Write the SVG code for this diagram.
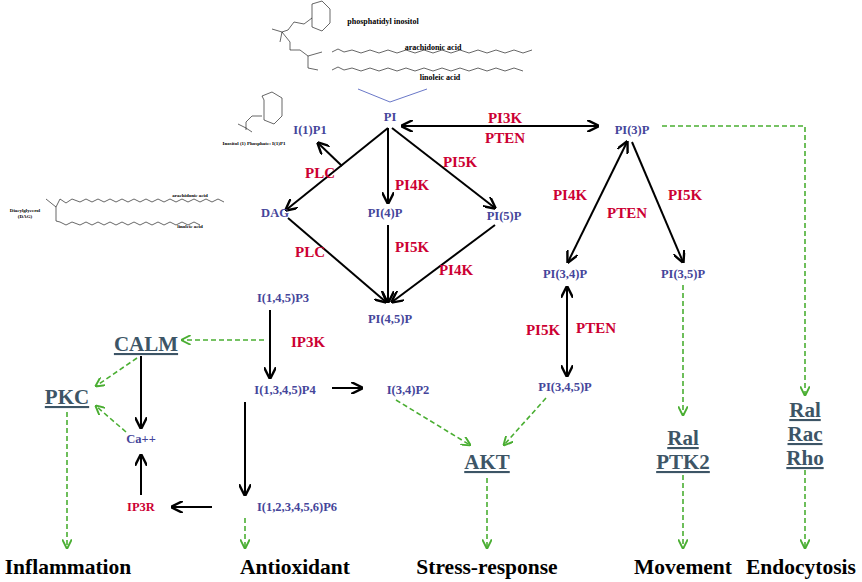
<svg xmlns="http://www.w3.org/2000/svg" width="862" height="582" viewBox="0 0 862 582">
<defs>
<style>
text{font-family:"Liberation Serif","Times New Roman",serif;font-weight:bold;text-anchor:middle}
.n{fill:#45459a;font-size:12.5px}
.e{fill:#cc0033;font-size:15px}
.b{fill:#3d5566;font-size:21px;text-decoration:underline}
.o{fill:#000;font-size:21.5px}
.s{fill:#000;font-size:8px}
.t{fill:#000;font-size:5px}
.k{stroke:#000;stroke-width:2;fill:none;marker-end:url(#ah)}
.kk{stroke:#000;stroke-width:2;fill:none;marker-end:url(#ah);marker-start:url(#as)}
.g{stroke:#4aae32;stroke-width:1.6;stroke-dasharray:5,3;fill:none;marker-end:url(#gh)}
.c{stroke:#000;stroke-width:0.6;fill:none}
</style>
<marker id="ah" viewBox="0 0 10 10" refX="9" refY="5" markerWidth="6" markerHeight="6" orient="auto"><path d="M0,0 L10,5 L0,10" fill="none" stroke="#000" stroke-width="2"/></marker>
<marker id="as" viewBox="0 0 10 10" refX="1" refY="5" markerWidth="6" markerHeight="6" orient="auto"><path d="M10,0 L0,5 L10,10" fill="none" stroke="#000" stroke-width="2"/></marker>
<marker id="gh" viewBox="0 0 10 10" refX="9" refY="5" markerWidth="6" markerHeight="6" orient="auto"><path d="M0,0 L10,5 L0,10" fill="none" stroke="#4aae32" stroke-width="2"/></marker>
</defs>
<rect width="862" height="582" fill="#fff"/>
<g id="structures">
<path class="c" d="M312,4 l10,-3 l8,8 l0,14 l-8,8 l-10,-4 l0,-14z M312,18 l-8,6 l-10,-2 M294,22 l-6,8 l-6,2 M282,32 l-10,-3 M282,32 l-2,10 M282,32 l8,10 l0,8 l10,0"/>
<path class="c" d="M332,52 l6,-3 l6,3 l8,-2 l9,3 l9,-3 l9,3 l9,-3 l9,3 l9,-3 l9,3 l9,-3 l9,3 l9,-3 l9,3 l9,-3 l9,3 l9,-3 l9,3 l9,-3 l9,3 l9,-3 l9,3 l9,-3"/>
<path class="c" d="M332,70 l6,-3 l6,3 l8,-2 l9,3 l9,-3 l9,3 l9,-3 l9,3 l9,-3 l9,3 l9,-3 l9,3 l9,-3 l9,3 l9,-3 l9,3 l9,-3 l9,3 l9,-3 l9,3 l9,-3 l9,3"/>
<path class="c" d="M300,50 l8,6 l0,12 l10,2 M308,56 l14,-4"/>
<text class="s" x="383" y="24">phosphatidyl inositol</text>
<text class="s" x="433" y="50">arachidonic acid</text>
<text class="s" x="440" y="80">linoleic acid</text>
<path d="M358,89 L390,102 L427,89" stroke="#6a78c8" stroke-width="1" fill="none"/>
<path class="c" d="M262,96 l10,-4 l10,6 l0,18 l-8,8 l-10,-4 l0,-20z M262,116 l-10,0 l-6,6 l0,8 M246,128 l-8,-4 M246,128 l6,4"/>
<text class="t" x="254" y="145">Inositol (1) Phosphate: I(1)P1</text>
<path class="c" d="M60,199 l6,4 l6,-4 l8,3 l6,-3 l6,3 l6,-3 l6,3 l6,-3 l6,3 l6,-3 l6,3 l6,-3 l6,3 l6,-3 l6,3 l6,-3 l6,3 l6,-3 l6,3 l6,-3 l6,3 l6,-3 l6,3 l6,-3 l6,3 l6,-3 l6,3"/>
<path class="c" d="M60,222 l6,3 l6,-3 l8,3 l6,-3 l6,3 l6,-3 l6,3 l6,-3 l6,3 l6,-3 l6,3 l6,-3 l6,3 l6,-3 l6,3 l6,-3 l6,3 l6,-3 l6,3 l6,-3 l6,3 l6,-3 l6,3"/>
<path class="c" d="M60,199 l-4,8 l0,14 l4,1 M46,199 l10,8"/>
<text class="t" x="190" y="197">arachidonic acid</text>
<text class="t" x="190" y="228">linoleic acid</text>
<text class="t" x="25" y="212">Diacylglycerol</text>
<text class="t" x="25" y="218">(DAG)</text>
</g>
<g id="connectors">
<path class="k" d="M388,128 L286,210"/>
<path class="k" d="M342,166 L318,143"/>
<path class="k" d="M388,128 L388,203"/>
<path class="k" d="M392,128 L495,208"/>
<path class="k" d="M388,225 L388,302"/>
<path class="k" d="M495,225 L392,302"/>
<path class="k" d="M288,218 L386,302"/>
<path class="kk" d="M402,126 L598,126"/>
<path class="kk" d="M627,142 L568,262"/>
<path class="k" d="M632,142 L683,262"/>
<path class="kk" d="M567,287 L567,376"/>
<path class="k" d="M270,310 L270,378"/>
<path class="k" d="M332,388 L362,388"/>
<path class="k" d="M245,402 L245,495"/>
<path class="k" d="M212,507 L172,507"/>
<path class="k" d="M141,495 L141,455"/>
<path class="k" d="M141,356 L141,428"/>
<path class="g" d="M264,340 L182,340"/>
<path class="g" d="M137,358 L96,386"/>
<path class="g" d="M126,432 L96,406"/>
<path class="g" d="M67,412 L67,548"/>
<path class="g" d="M396,400 L470,445"/>
<path class="g" d="M546,398 L504,445"/>
<path class="g" d="M487,478 L487,548"/>
<path class="g" d="M245,518 L245,548"/>
<path class="g" d="M683,285 L683,415"/>
<path class="g" d="M683,475 L683,548"/>
<path class="g" d="M662,126 L805,126 L805,395"/>
<path class="g" d="M805,470 L805,548"/>
</g>
<g id="enzymes">
<text class="e" x="505" y="123">PI3K</text><text class="e" x="505" y="143">PTEN</text>
<text class="e" x="320" y="178">PLC</text><text class="e" x="412" y="190">PI4K</text><text class="e" x="460" y="167">PI5K</text>
<text class="e" x="310" y="257">PLC</text><text class="e" x="412" y="252">PI5K</text><text class="e" x="456" y="275">PI4K</text>
<text class="e" x="308" y="347">IP3K</text><text class="e" x="570" y="200">PI4K</text><text class="e" x="685" y="200">PI5K</text>
<text class="e" x="627" y="218">PTEN</text><text class="e" x="543" y="335">PI5K</text><text class="e" x="596" y="333">PTEN</text>
</g>
<g id="PI"><text class="n" x="390" y="121">PI</text></g>
<g id="I1P1"><text class="n" x="310" y="134">I(1)P1</text></g>
<g id="DAG"><text class="n" x="275" y="217">DAG</text></g>
<g id="PI4P"><text class="n" x="385" y="217">PI(4)P</text></g>
<g id="PI5P"><text class="n" x="504" y="220">PI(5)P</text></g>
<g id="I145P3"><text class="n" x="283" y="302">I(1,4,5)P3</text></g>
<g id="PI45P"><text class="n" x="390" y="323">PI(4,5)P</text></g>
<g id="I1345P4"><text class="n" x="285" y="394">I(1,3,4,5)P4</text></g>
<g id="I34P2"><text class="n" x="408" y="394">I(3,4)P2</text></g>
<g id="Ca"><text class="n" x="141" y="443">Ca++</text></g>
<g id="IP3R"><text class="n" x="141" y="511" style="fill:#cc0033">IP3R</text></g>
<g id="P6"><text class="n" x="297" y="511">I(1,2,3,4,5,6)P6</text></g>
<g id="PI3P"><text class="n" x="632" y="134">PI(3)P</text></g>
<g id="PI34P"><text class="n" x="565" y="278">PI(3,4)P</text></g>
<g id="PI35P"><text class="n" x="683" y="278">PI(3,5)P</text></g>
<g id="PI345P"><text class="n" x="565" y="391">PI(3,4,5)P</text></g>
<g id="CALM"><text class="b" x="146" y="351">CALM</text></g>
<g id="PKC"><text class="b" x="67" y="404">PKC</text></g>
<g id="AKT"><text class="b" x="487" y="469">AKT</text></g>
<g id="RalPTK2"><text class="b" x="683" y="445">Ral</text><text class="b" x="683" y="469">PTK2</text></g>
<g id="RalRacRho"><text class="b" x="805" y="417">Ral</text><text class="b" x="805" y="441">Rac</text><text class="b" x="805" y="465">Rho</text></g>
<g id="outcomes">
<text class="o" x="68" y="574">Inflammation</text><text class="o" x="295" y="574">Antioxidant</text>
<text class="o" x="487" y="574">Stress-response</text><text class="o" x="683" y="574">Movement</text><text class="o" x="801" y="574">Endocytosis</text>
</g>
</svg>
